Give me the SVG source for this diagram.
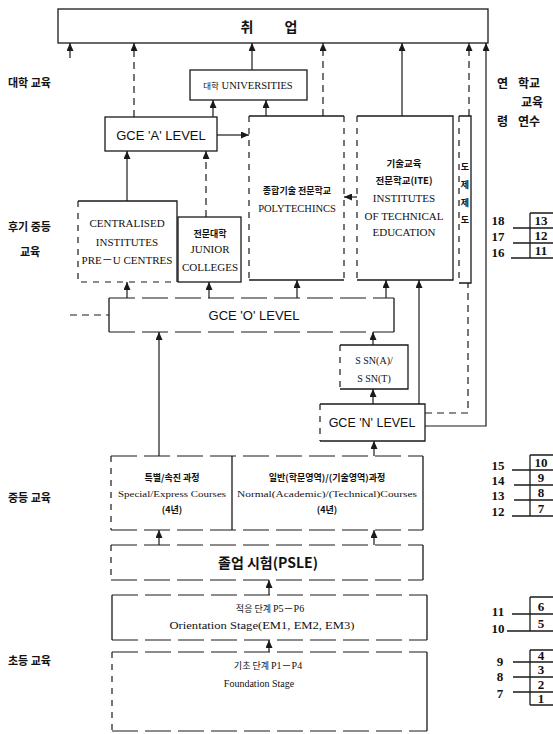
<svg xmlns="http://www.w3.org/2000/svg" width="553" height="734" viewBox="0 0 553 734">
<defs>
<marker id="ah" markerUnits="userSpaceOnUse" markerWidth="8" markerHeight="7" refX="8" refY="3.5" orient="auto">
<path d="M0,0 L8,3.5 L0,7 z" fill="#1a1a1a"/>
</marker>
</defs>
<style>
.b{fill:#fff;stroke:#1a1a1a;stroke-width:1.3}
.s{fill:none;stroke:#1a1a1a;stroke-width:1.3}
.d{fill:none;stroke:#1a1a1a;stroke-width:1.2;stroke-dasharray:26 7}
.sd{fill:none;stroke:#1a1a1a;stroke-width:1.2;stroke-dasharray:6 6}
.c{fill:none;stroke:#1a1a1a;stroke-width:1.2}
.cd{fill:none;stroke:#1a1a1a;stroke-width:1.2;stroke-dasharray:7 5}
.a{marker-end:url(#ah)}
.k{font-family:"Noto Sans CJK KR","Noto Sans",sans-serif;fill:#111}
.e{font-family:"Liberation Serif","Noto Sans CJK KR",serif;fill:#111}
.g{font-family:"Liberation Sans","DejaVu Sans",sans-serif;fill:#111}
.n{font-family:"Liberation Serif",serif;font-weight:bold;fill:#111;font-size:13px}
.lab{font-size:11px;font-weight:bold}
</style>
<rect width="553" height="734" fill="#fff"/>

<!-- side labels -->
<g id="side-labels">
<text class="k lab" x="8" y="87">대학 교육</text>
<text class="k lab" x="8" y="231">후기 중등</text>
<text class="k lab" x="20" y="256">교육</text>
<text class="k lab" x="8" y="502">중등 교육</text>
<text class="k lab" x="8" y="665">초등 교육</text>
</g>

<g id="header-right">
<text class="k" x="497" y="88" font-size="12" font-weight="bold">연</text>
<text class="k" x="518" y="88" font-size="12" font-weight="bold">학교</text>
<text class="k" x="521" y="107" font-size="12" font-weight="bold">교육</text>
<text class="k" x="497" y="126" font-size="12" font-weight="bold">령</text>
<text class="k" x="518" y="126" font-size="12" font-weight="bold">연수</text>
</g>

<!-- nodes -->
<g id="employment">
<rect class="b" x="58" y="9" width="430" height="34"/>
<text class="k" x="247" y="32" font-size="14" font-weight="bold" text-anchor="middle">취</text>
<text class="k" x="291" y="32" font-size="14" font-weight="bold" text-anchor="middle">업</text>
</g>

<g id="universities">
<rect class="b" x="190" y="70" width="117" height="30"/>
<text class="e" x="248" y="89" font-size="10.5" text-anchor="middle"><tspan class="k" font-size="8.5">대학</tspan> UNIVERSITIES</text>
</g>

<g id="gce-a">
<rect class="b" x="105" y="117" width="112" height="34" stroke-width="1.6"/>
<text class="g" x="161" y="139.5" font-size="13" text-anchor="middle">GCE 'A' LEVEL</text>
</g>

<g id="centralised">
<rect x="78" y="201" width="99" height="81" fill="#fff"/>
<path class="s" d="M78,201 H177 V282"/>
<path class="sd" d="M78,201 V282 H177"/>
<text class="e" x="127" y="227" font-size="11" text-anchor="middle">CENTRALISED</text>
<text class="e" x="127" y="246" font-size="11" text-anchor="middle">INSTITUTES</text>
<text class="e" x="127" y="264" font-size="11" text-anchor="middle">PRE－U CENTRES</text>
</g>

<g id="junior-colleges">
<rect class="b" x="178" y="217" width="63" height="65"/>
<text class="k" x="210" y="237" font-size="9" font-weight="bold" text-anchor="middle">전문대학</text>
<text class="e" x="210" y="253" font-size="11" text-anchor="middle">JUNIOR</text>
<text class="e" x="210" y="271" font-size="11" text-anchor="middle">COLLEGES</text>
</g>

<g id="polytechnics">
<rect x="249" y="116" width="95" height="164" fill="#fff"/>
<path class="s" d="M249,116 H344"/>
<path class="s" d="M249,280 H344"/>
<path class="sd" d="M249,116 V280"/>
<path class="sd" d="M344,116 V280"/>
<text class="k" x="297" y="194" font-size="9" font-weight="bold" text-anchor="middle">종합기술 전문학교</text>
<text class="e" x="297" y="212" font-size="10.5" text-anchor="middle">POLYTECHINCS</text>
</g>

<g id="ite">
<rect x="357" y="116" width="96" height="164" fill="#fff"/>
<path class="s" d="M357,116 H453 V280 H357"/>
<path class="sd" d="M357,116 V280"/>
<text class="k" x="404" y="167" font-size="9.5" font-weight="bold" text-anchor="middle">기술교육</text>
<text class="k" x="404" y="184" font-size="9.5" font-weight="bold" text-anchor="middle">전문학교(ITE)</text>
<text class="e" x="404" y="202" font-size="11" text-anchor="middle">INSTITUTES</text>
<text class="e" x="404" y="220" font-size="11" text-anchor="middle">OF TECHNICAL</text>
<text class="e" x="404" y="236" font-size="11" text-anchor="middle">EDUCATION</text>
</g>

<g id="apprenticeship">
<rect x="459" y="116" width="12" height="167" fill="#fff"/>
<path class="s" d="M459,116 H471 V283 H459"/>
<path class="sd" d="M459,116 V283"/>
<text class="k" x="465" y="170" font-size="9" font-weight="bold" text-anchor="middle">도</text>
<text class="k" x="465" y="188" font-size="9" font-weight="bold" text-anchor="middle">제</text>
<text class="k" x="465" y="206" font-size="9" font-weight="bold" text-anchor="middle">제</text>
<text class="k" x="465" y="223" font-size="9" font-weight="bold" text-anchor="middle">도</text>
</g>

<g id="gce-o">
<rect x="109" y="298" width="285" height="34" fill="#fff"/>
<path class="s" d="M109,298 V332"/>
<path class="s" d="M394,298 V332"/>
<path class="d" d="M109,298 H394"/>
<path class="d" d="M109,332 H394"/>
<text class="g" x="254" y="320" font-size="13" text-anchor="middle">GCE 'O' LEVEL</text>
</g>

<g id="ssn">
<rect x="340" y="345" width="68" height="44" fill="#fff"/>
<path class="s" d="M340,345 H408 V389 H340"/>
<path class="sd" d="M340,345 V389"/>
<text class="e" x="374" y="364" font-size="10" text-anchor="middle">S SN(A)/</text>
<text class="e" x="374" y="382" font-size="10" text-anchor="middle">S SN(T)</text>
</g>

<g id="gce-n">
<rect x="320" y="404" width="105" height="37" fill="#fff"/>
<path class="s" d="M320,404 H425 V441 H320" stroke-width="1.6"/>
<path class="sd" d="M320,404 V441"/>
<text class="g" x="372" y="427" font-size="12.5" text-anchor="middle">GCE 'N' LEVEL</text>
</g>

<g id="courses">
<rect x="111" y="456" width="312" height="74" fill="#fff"/>
<path class="s" d="M423,456 V530"/>
<path class="s" d="M232,456 V530"/>
<path class="d" d="M111,456 H423"/>
<path class="d" d="M111,530 H423"/>
<path class="sd" d="M111,456 V530"/>
<text class="k" x="172" y="481" font-size="9" font-weight="bold" text-anchor="middle">특별/속진 과정</text>
<text class="e" x="172" y="497" font-size="9" text-anchor="middle" textLength="108" lengthAdjust="spacingAndGlyphs">Special/Express Courses</text>
<text class="k" x="172" y="513" font-size="9" font-weight="bold" text-anchor="middle">(4년)</text>
<text class="k" x="327" y="481" font-size="9" font-weight="bold" text-anchor="middle">일반(학문영역)/(기술영역)과정</text>
<text class="e" x="327" y="497" font-size="9" text-anchor="middle" textLength="180" lengthAdjust="spacingAndGlyphs">Normal(Academic)/(Technical)Courses</text>
<text class="k" x="327" y="513" font-size="9" font-weight="bold" text-anchor="middle">(4년)</text>
</g>

<g id="psle">
<rect x="111" y="545" width="312" height="35" fill="#fff"/>
<path class="s" d="M423,545 V580"/>
<path class="d" d="M111,545 H423"/>
<path class="d" d="M111,580 H423"/>
<path class="sd" d="M111,545 V580"/>
<text class="k" x="268" y="568" font-size="14" font-weight="bold" text-anchor="middle">졸업 시험(PSLE)</text>
</g>

<g id="orientation">
<rect x="112" y="595" width="315" height="45" fill="#fff"/>
<path class="s" d="M112,595 V640"/>
<path class="s" d="M427,595 V640"/>
<path class="d" d="M112,595 H427"/>
<path class="d" d="M112,640 H427"/>
<text class="k" x="270" y="612" font-size="9" text-anchor="middle">적응 단계 <tspan class="e" font-size="10">P5－P6</tspan></text>
<text class="e" x="262" y="629" font-size="10" text-anchor="middle" textLength="185" lengthAdjust="spacingAndGlyphs">Orientation Stage(EM1, EM2, EM3)</text>
</g>

<g id="foundation">
<rect x="112" y="652" width="315" height="79" fill="#fff"/>
<path class="s" d="M427,652 V731"/>
<path class="d" d="M112,652 H427"/>
<path class="d" d="M112,731 H427"/>
<path class="sd" d="M112,652 V731"/>
<text class="k" x="268" y="669" font-size="9" text-anchor="middle">기초 단계 <tspan class="e" font-size="10">P1－P4</tspan></text>
<text class="e" x="259" y="687" font-size="10" text-anchor="middle">Foundation Stage</text>
</g>

<!-- connectors -->
<g id="connectors">
<path class="c a" d="M70,58 V43"/>
<path class="cd a" d="M134,117 V43"/>
<path class="c a" d="M252,70 V43"/>
<path class="cd a" d="M323,116 V43"/>
<path class="c a" d="M402,116 V43"/>
<path class="cd a" d="M469,116 V43"/>
<path class="c a" d="M425,426 H486 V43" stroke-width="1.6"/>
<path class="cd" d="M425,413 H468 V283"/>
<path class="c a" d="M213,117 V100"/>
<path class="c a" d="M266,116 V100"/>
<path class="c a" d="M217,135 H249"/>
<path class="c a" d="M357,197 H344"/>
<path class="c a" d="M127,201 V151"/>
<path class="cd a" d="M206,217 V151"/>
<path class="c a" d="M127,298 V282"/>
<path class="c a" d="M209,298 V282"/>
<path class="c a" d="M297,298 V280"/>
<path class="c a" d="M386,298 V280"/>
<path class="c a" d="M419,404 V280"/>
<path class="cd" d="M70,315 H109"/>
<path class="c a" d="M159,456 V332"/>
<path class="c a" d="M373,345 V332"/>
<path class="c a" d="M373,404 V389"/>
<path class="c a" d="M374,456 V441"/>
<path class="c a" d="M159,545 V530"/>
<path class="c a" d="M374,545 V530"/>
<path class="c a" d="M269,595 V580"/>
<path class="c a" d="M269,652 V640"/>
</g>

<!-- age / school-year scale -->
<g id="age-scale">
<path class="s" d="M530,213 V258 M530,213 H553 M513,228 H553 M513,243 H553 M511,258 H553"/>
<text class="n" x="498" y="225" text-anchor="middle">18</text>
<text class="n" x="498" y="241" text-anchor="middle">17</text>
<text class="n" x="498" y="257" text-anchor="middle">16</text>
<text class="n" x="541" y="225" text-anchor="middle">13</text>
<text class="n" x="541" y="240" text-anchor="middle">12</text>
<text class="n" x="541" y="255" text-anchor="middle">11</text>

<path class="s" d="M530,455 V516 M530,455 H553 M512,470 H553 M514,485 H553 M514,500 H553 M512,516 H553"/>
<text class="n" x="498" y="470" text-anchor="middle">15</text>
<text class="n" x="498" y="485" text-anchor="middle">14</text>
<text class="n" x="498" y="500" text-anchor="middle">13</text>
<text class="n" x="498" y="516" text-anchor="middle">12</text>
<text class="n" x="541" y="467" text-anchor="middle">10</text>
<text class="n" x="541" y="482" text-anchor="middle">9</text>
<text class="n" x="541" y="497" text-anchor="middle">8</text>
<text class="n" x="541" y="513" text-anchor="middle">7</text>

<path class="s" d="M530,597 V631 M530,597 H553 M512,614 H553 M507,631 H553"/>
<text class="n" x="498" y="616" text-anchor="middle">11</text>
<text class="n" x="498" y="633" text-anchor="middle">10</text>
<text class="n" x="541" y="611" text-anchor="middle">6</text>
<text class="n" x="541" y="628" text-anchor="middle">5</text>

<path class="s" d="M530,650 V705 M530,650 H553 M513,662 H553 M513,677 H553 M513,692 H553 M530,705 H553"/>
<text class="n" x="500" y="666" text-anchor="middle">9</text>
<text class="n" x="500" y="681" text-anchor="middle">8</text>
<text class="n" x="500" y="698" text-anchor="middle">7</text>
<text class="n" x="541" y="660" text-anchor="middle">4</text>
<text class="n" x="541" y="674" text-anchor="middle">3</text>
<text class="n" x="541" y="689" text-anchor="middle">2</text>
<text class="n" x="541" y="703" text-anchor="middle">1</text>
</g>
</svg>
